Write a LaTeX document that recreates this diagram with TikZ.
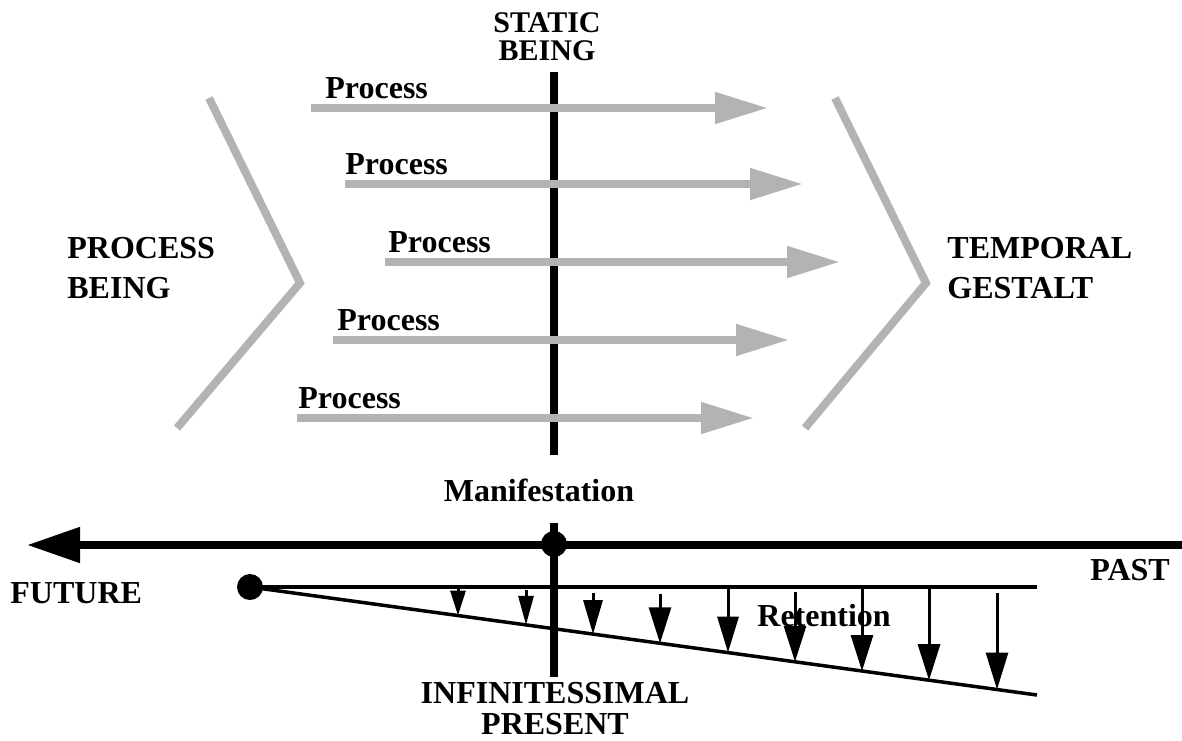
\documentclass[tikz,border=0pt]{standalone}
\usepackage{fontspec}
\setmainfont{Liberation Serif}
\usepackage{tikz}
\usetikzlibrary{arrows.meta}
\definecolor{procgray}{RGB}{179,179,179}
\tikzset{
  txt/.style={font=\fontsize{16}{20}\selectfont\bfseries, inner sep=0pt},
  cut/.style={line width=4pt},
  chevron/.style={procgray, line width=4pt},
  procarrow/.style={procgray, line width=4pt, -{Triangle[length=26.5pt,width=15pt]}},
  timeaxis/.style={line width=4pt, -{Triangle[length=26.5pt,width=17pt]}},
  retline/.style={line width=1.75pt},
  retarrow/.style={line width=1.5pt},
  dot/.style={circle, fill=black, inner sep=0pt, minimum size=13pt},
}

\begin{document}
\begin{tikzpicture}[x=0.5pt,y=-0.5pt]
        \useasboundingbox (0,0) rectangle (1182,740);
        % the static cut through the processes
        \node[txt, anchor=north, align=center, font=\fontsize{15}{14}\selectfont\bfseries] (static) at (547,12) {STATIC\\BEING};
        \coordinate (cuttop) at (554,72);
        \coordinate (cutmid) at (554,455);
        \draw[cut] (cuttop) -- (cutmid);
        % the two chevrons
        \draw[chevron] (209,98) -- (300,283) -- (177,428);
        \draw[chevron] (835,98) -- (926,283) -- (805,428);
        \node[txt, anchor=north west, align=left] (procbeing) at (67,237) {PROCESS\\BEING};
        \node[txt, anchor=north west, align=left] (gestalt) at (947,237) {TEMPORAL\\GESTALT};
        % the five processes
        \foreach \n/\sx/\lx/\ex/\py in {1/311/325/768/108, 2/345/345/803/184, 3/385/388/840/262, 4/333/337/789/340, 5/297/298/754/418} {
            \coordinate (ps\n) at (\sx,\py);
            \coordinate (pe\n) at (\ex,\py);
            \draw[procarrow] (ps\n) -- (pe\n);
            \node[txt, anchor=base west] (pl\n) at (\lx,\py-10) {Process};
        }
        \node[txt, anchor=base] (manif) at (539,501) {Manifestation};
        % time axis from past to future
        \coordinate (past) at (1182,545);
        \coordinate (future) at (27,545);
        \draw[timeaxis] (past) -- (future);
        \node[txt, anchor=base west] (futlabel) at (10,603) {FUTURE};
        \node[txt, anchor=base west] (pastlabel) at (1090,580) {PAST};
        % retention wedge
        \node[dot] (origin) at (250,587) {};
        \coordinate (retend) at (1037,587);
        \coordinate (slantend) at (1037,695);
        \draw[retline] (origin.center) -- (retend);
        \draw[retline] (origin.center) -- (slantend);
        \node[txt, anchor=base west] (retention) at (757,626) {Retention};
        \foreach \i/\rx/\ry/\hl/\hw in {1/458/588/12.5pt/7.5pt, 2/526/590/14.5pt/7.5pt, 3/593/593/17pt/9.5pt, 4/660/594/18pt/11pt, 5/728/588/18pt/10.5pt, 6/795/592/18pt/11pt, 7/862/588/18pt/11pt, 8/929/588/18pt/11pt, 9/997/593/18.5pt/11pt} {
            \coordinate (rs\i) at (\rx,\ry);
            \coordinate (re\i) at (\rx,{587+(\rx-250)*0.13723});
            \draw[retarrow, -{Triangle[length=\hl,width=\hw]}] (rs\i) -- (re\i);
        }
        % lower part of the cut, the present
        \coordinate (cutlow) at (554,523);
        \coordinate (cutbot) at (554,677);
        \draw[cut] (cutlow) -- (cutbot);
        \node[dot] (now) at (554,544) {};
        \node[txt, anchor=north, align=center, font=\fontsize{16}{15.5}\selectfont\bfseries] (present) at (555,682) {INFINITESSIMAL\\PRESENT};
\end{tikzpicture}
\end{document}
